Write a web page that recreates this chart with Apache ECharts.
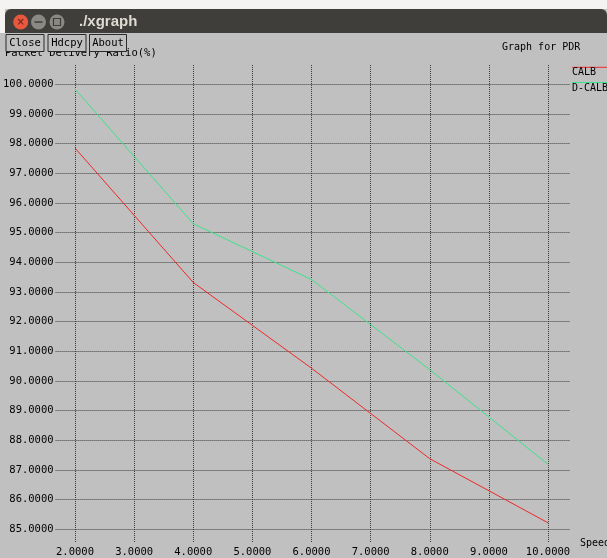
<!DOCTYPE html>
<html>
<head>
<meta charset="utf-8">
<script src="https://cdn.jsdelivr.net/npm/echarts@6/dist/echarts.min.js"></script>
<style>
html,body{margin:0;padding:0;background:#c0c0c0;}
#c{width:607px;height:558px;}
</style>
</head>
<body>
<div id="c"></div>
<script>
// ---- data ----
const xValues = [2, 4, 6, 8, 10];
const seriesNames = ['CALB', 'D-CALB'];
const calb = [97.85, 93.32, 90.43, 87.38, 85.22];
const dcalb = [99.84, 95.30, 93.42, 90.38, 87.19];
const seriesColors = ['#f02828', '#3de38a'];
const titleText = 'Graph for PDR';
const yTitle = 'Packet Delivery Ratio(%)';
const xTitle = 'Speed';
const buttons = ['Close', 'Hdcpy', 'About'];

const mono = 'DejaVu Sans Mono';
const gridLine = {show: true, lineStyle: {color: '#3c3c3c', width: 1, type: [1, 1]}};

function pairs(vals) { return xValues.map((x, i) => [x, vals[i]]); }

const chart = echarts.init(document.getElementById('c'), null, {renderer: 'canvas'});

const btnX = [[6, 38], [48, 38], [89.5, 37]];

const graphics = [
  // top light strip and title bar
  {type: 'rect', z: 100, shape: {x: 0, y: 0, width: 607, height: 9}, style: {fill: '#f4f3f2'}},
  {type: 'rect', z: 100, shape: {x: 0, y: 9, width: 5, height: 24}, style: {fill: '#f4f3f2'}},
  {type: 'rect', z: 100, shape: {x: 5, y: 9, width: 602, height: 24, r: [6, 6, 0, 0]}, style: {fill: '#3f3e3a'}},
  {type: 'circle', z: 101, shape: {cx: 20.7, cy: 22, r: 7.5}, style: {fill: '#e9573f'}},
  {type: 'text', z: 102, style: {x: 20.7, y: 22, text: '×', fill: '#7a2a1c', font: 'bold 10px "DejaVu Sans"', align: 'center', verticalAlign: 'middle'}},
  {type: 'circle', z: 101, shape: {cx: 38.5, cy: 22, r: 7.5}, style: {fill: '#8a8984'}},
  {type: 'rect', z: 102, shape: {x: 34.5, y: 21.3, width: 8, height: 1.5}, style: {fill: '#3f3e3a'}},
  {type: 'circle', z: 101, shape: {cx: 57, cy: 22, r: 7.5}, style: {fill: '#8a8984'}},
  {type: 'rect', z: 102, shape: {x: 53.5, y: 18.5, width: 7, height: 7}, style: {fill: 'none', stroke: '#3f3e3a', lineWidth: 1.2}},
  {type: 'text', z: 101, style: {x: 79, y: 22, text: './xgraph', fill: '#dfdbd2', font: 'bold 15px "Liberation Sans"', verticalAlign: 'middle'}},
  // axis titles
  {type: 'text', z: 50, style: {x: 5, y: 53.5, text: yTitle, fill: '#000', font: '10.5px "' + mono + '"', verticalAlign: 'middle'}},
  {type: 'text', z: 50, style: {x: 502, y: 47, text: titleText, fill: '#000', font: '10px "' + mono + '"', verticalAlign: 'middle'}},
  {type: 'text', z: 50, style: {x: 580, y: 543, text: xTitle, fill: '#000', font: '10px "' + mono + '"', verticalAlign: 'middle'}}
];
buttons.forEach((b, i) => {
  graphics.push({type: 'rect', z: 60, shape: {x: btnX[i][0], y: 34.5, width: btnX[i][1], height: 17}, style: {fill: '#c0c0c0', stroke: '#2a2a2a', lineWidth: 1}});
  graphics.push({type: 'text', z: 61, style: {x: btnX[i][0] + btnX[i][1] / 2, y: 43.5, text: b, fill: '#000', font: '10.5px "' + mono + '"', align: 'center', verticalAlign: 'middle'}});
});
// legend
seriesNames.forEach((n, i) => {
  const y0 = 67.3 + i * 15.2;
  graphics.push({type: 'line', z: 50, shape: {x1: 572, y1: y0, x2: 607, y2: y0}, style: {stroke: seriesColors[i], lineWidth: 1}});
  graphics.push({type: 'text', z: 50, style: {x: 572, y: y0 + 5.5, text: n, fill: '#000', font: '10px "' + mono + '"', verticalAlign: 'middle'}});
});

const option = {
  backgroundColor: '#c0c0c0',
  animation: false,
  grid: [
    {left: 52, right: 37, top: 84.3, bottom: 28.7},
    {left: 75, right: 59, top: 65, bottom: 15},
    {left: 75, right: 59, top: 84.3, bottom: 28.7}
  ],
  xAxis: [
    {gridIndex: 0, type: 'value', min: 0, max: 1, show: false},
    {gridIndex: 1, type: 'value', min: 2, max: 10, interval: 1,
      axisLine: {show: false}, axisTick: {show: false}, splitLine: gridLine,
      axisLabel: {margin: 4, color: '#000', fontFamily: mono, fontSize: 10.5, formatter: v => v.toFixed(4), showMinLabel: true, showMaxLabel: true}},
    {gridIndex: 2, type: 'value', min: 2, max: 10, show: false}
  ],
  yAxis: [
    {gridIndex: 0, type: 'value', min: 85, max: 100, interval: 1,
      axisLine: {show: false}, axisTick: {show: false}, splitLine: gridLine,
      axisLabel: {margin: 2, color: '#000', fontFamily: mono, fontSize: 10.5, formatter: v => v.toFixed(4)}},
    {gridIndex: 1, type: 'value', min: 0, max: 1, show: false},
    {gridIndex: 2, type: 'value', min: 85, max: 100, show: false}
  ],
  series: [
    {name: seriesNames[0], type: 'line', xAxisIndex: 2, yAxisIndex: 2, data: pairs(calb), symbol: 'none', lineStyle: {color: seriesColors[0], width: 1}, z: 10},
    {name: seriesNames[1], type: 'line', xAxisIndex: 2, yAxisIndex: 2, data: pairs(dcalb), symbol: 'none', lineStyle: {color: seriesColors[1], width: 1}, z: 10}
  ],
  graphic: graphics
};
chart.setOption(option);
</script>
</body>
</html>
